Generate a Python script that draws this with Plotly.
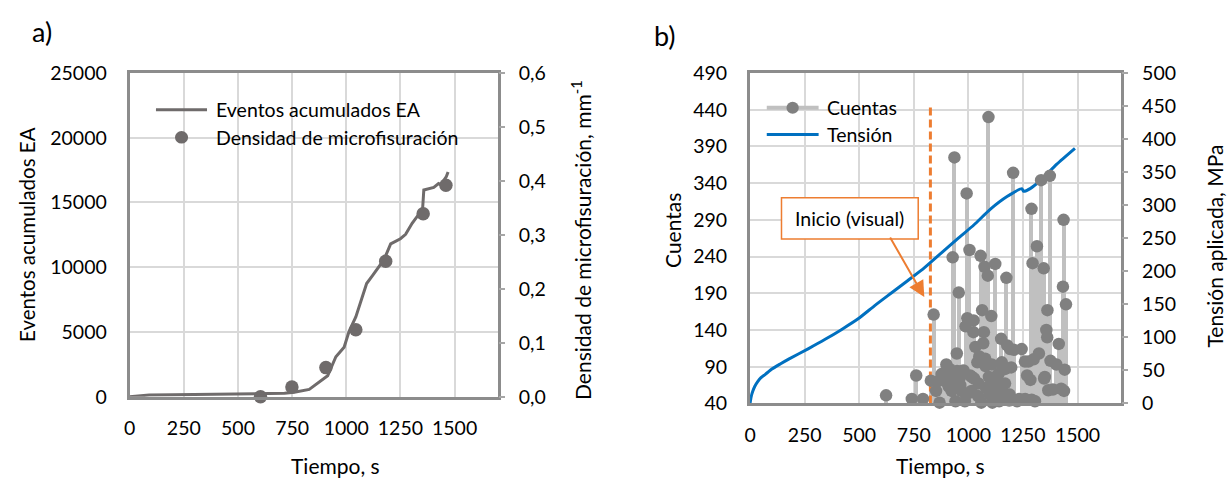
import plotly.graph_objects as go

W, H = 1228, 490
FONT = "Lato"

# ---------------- Panel a data ----------------
t_ea = [0, 40, 90, 200, 350, 500, 600, 715, 760, 829, 914, 952, 990, 1013, 1044, 1094,
        1121, 1174, 1205, 1250, 1274, 1304, 1342, 1352, 1358, 1404, 1426, 1440, 1450, 1462, 1470]
ea_acum = [0, 60, 130, 150, 170, 190, 220, 272, 350, 567, 1620, 3090, 3830, 5060, 6160, 8740,
           9350, 10580, 11800, 12200, 12540, 13390, 14250, 14400, 15970, 16170, 16460, 16350, 16700, 17000, 17350]
t_dens = [604, 749, 906, 1044, 1182, 1355, 1460]
densidad = [0.0, 0.018, 0.054, 0.124, 0.251, 0.339, 0.392]

# ---------------- Panel b data ----------------
t_cnt = [623, 741, 761, 792, 828, 841, 852, 859, 868, 877, 899, 905, 914, 923, 928, 932, 936, 941,
         947, 950, 956, 959, 968, 978, 984, 987, 992, 995, 1005, 1008, 1014, 1023, 1026, 1032, 1041,
         1044, 1050, 1056, 1059, 1063, 1068, 1071, 1074, 1078, 1081, 1089, 1092, 1096, 1105, 1108,
         1123, 1126, 1132, 1141, 1147, 1150, 1153, 1166, 1169, 1174, 1178, 1187, 1196, 1205, 1208,
         1223, 1233, 1244, 1253, 1260, 1269, 1275, 1284, 1289, 1290, 1294, 1299, 1305, 1314, 1323,
         1333, 1345, 1347, 1350, 1357, 1361, 1362, 1366, 1373, 1387, 1403, 1414, 1425, 1433, 1436,
         1438, 1441, 1447,
         895, 910, 948, 963, 971, 1001, 1016, 1024, 1047, 1077, 1094, 1100, 1107, 1110, 1138,
         1145, 1155, 1168, 1191, 1189, 1259, 1376]
cuentas = [51, 46, 78, 46, 71, 161, 57, 70, 41, 80, 93, 67, 87, 57, 239, 78, 375, 43,
           108, 70, 191, 74, 57, 85, 43, 145, 326, 156, 249, 78, 57, 137, 74, 117, 96,
           50, 104, 241, 41, 167, 122, 137, 226, 91, 61, 214, 430, 52, 159, 65,
           230, 70, 78, 43, 61, 128, 96, 52, 87, 211, 119, 44, 89, 354, 113,
           43, 46, 114, 45, 46, 78, 97, 72, 305, 45, 231, 100, 43, 254, 108,
           344, 224, 74, 76, 140, 130, 167, 58, 350, 59, 93, 121, 60, 199, 290,
           57, 86, 175,
           76, 63, 84, 65, 84, 54, 76, 153, 67, 101, 76, 58, 93, 41, 80,
           54, 86, 67, 114, 52, 97, 98]
t_ten = [0, 5, 12, 22, 35, 50, 70, 100, 140, 177, 268, 344, 420, 495, 571, 647, 723, 798,
         874, 950, 1025, 1101, 1177, 1245, 1253, 1283, 1329, 1405, 1488]
tension = [0, 10, 18, 26, 33, 39, 44, 52, 60, 67, 83, 97, 112, 128, 148, 167, 186, 205,
           227, 249, 270, 294, 313, 325, 321, 325, 337, 362, 386]
inicio_t = [826, 826]
inicio_y = [40, 447]

# tick labels
x_ticks = [0, 250, 500, 750, 1000, 1250, 1500]

GRAY_LINE = "#6F6B6B"
GRAY_MK = "#6F6B6B"
STEM = "#C0C0C0"
CNT_MK = "#808080"
BLUE = "#0070C0"
ORANGE = "#ED7D31"
BORDER = "#8C8C8C"
GRID = "#D9D9D9"


def px(x):
    return x / W


def py(y):
    return 1 - y / H


fig = go.Figure()

# Panel a
fig.add_trace(go.Scatter(x=t_ea, y=ea_acum, mode="lines", line=dict(color=GRAY_LINE, width=3),
                         xaxis="x", yaxis="y", showlegend=False))
fig.add_trace(go.Scatter(x=t_dens, y=densidad, mode="markers",
                         marker=dict(color=GRAY_MK, size=13.5), cliponaxis=False,
                         xaxis="x", yaxis="y2", showlegend=False))

# Panel b
fig.add_trace(go.Bar(x=t_cnt, y=cuentas, width=18, marker=dict(color=STEM, line=dict(width=0)),
                     xaxis="x2", yaxis="y3", showlegend=False))
fig.add_trace(go.Scatter(x=inicio_t, y=inicio_y, mode="lines",
                         line=dict(color=ORANGE, width=3, dash="8px,4px"),
                         xaxis="x2", yaxis="y3", showlegend=False))
fig.add_trace(go.Scatter(x=t_ten, y=tension, mode="lines",
                         line=dict(color=BLUE, width=3, shape="spline", smoothing=0.6),
                         xaxis="x2", yaxis="y4", showlegend=False))
fig.add_trace(go.Scatter(x=t_cnt, y=cuentas, mode="markers",
                         marker=dict(color=CNT_MK, size=12.5), cliponaxis=False,
                         xaxis="x2", yaxis="y5", showlegend=False))

tickfont = dict(family=FONT, size=19.5, color="#000000")

common_x = dict(range=[0, 1700], tickvals=x_ticks, tickformat="d", showgrid=True, gridcolor=GRID,
                gridwidth=1.5, showline=True, mirror=True, linecolor=BORDER, linewidth=3,
                ticks="", tickfont=tickfont, zeroline=False, ticklabelstandoff=12, fixedrange=True)

fig.update_layout(
    width=W, height=H, autosize=False,
    margin=dict(l=0, r=0, t=0, b=0),
    paper_bgcolor="white", plot_bgcolor="white",
    separators=",.",
    font=dict(family=FONT, color="#000000"),
    barmode="overlay",
    bargap=0,
    xaxis=dict(domain=[px(124.3), px(494.3)], anchor="y", **common_x),
    yaxis=dict(domain=[py(403.7), py(64)], anchor="x", range=[0, 25000], dtick=5000, tick0=0,
               tickformat="d", showgrid=True, gridcolor=GRID, gridwidth=1.5, showline=True,
               mirror=True, linecolor=BORDER, linewidth=3, ticks="", tickfont=tickfont,
               zeroline=False, ticklabelstandoff=16),
    yaxis2=dict(overlaying="y", side="right", anchor="x", range=[0, 0.6], dtick=0.1, tick0=0,
                tickformat=".1f", showgrid=False, showline=False, ticks="outside", ticklen=6,
                tickcolor="#A6A6A6", tickwidth=1.5, tickfont=tickfont, zeroline=False,
                ticklabelstandoff=10),
    xaxis2=dict(domain=[px(747.7), px(1120.7)], anchor="y3", **common_x),
    yaxis3=dict(domain=[py(410.7), py(64)], anchor="x2", range=[40, 490], dtick=50, tick0=40,
                tickformat="d", showgrid=True, gridcolor=GRID, gridwidth=1.5, showline=True,
                mirror=True, linecolor=BORDER, linewidth=3, ticks="", tickfont=tickfont,
                zeroline=False, ticklabelstandoff=16),
    yaxis4=dict(overlaying="y3", side="right", anchor="x2", range=[0, 500], dtick=50, tick0=0,
                tickformat="d", showgrid=False, showline=False, ticks="outside", ticklen=6,
                tickcolor="#A6A6A6", tickwidth=1.5, tickfont=tickfont, zeroline=False,
                ticklabelstandoff=10),
    yaxis5=dict(overlaying="y3", side="left", anchor="x2", range=[40, 490], visible=False,
                showgrid=False, zeroline=False),
)

shapes = []
annotations = []


def txt(x, y, s, size=19, angle=0, xanchor="center", yanchor="middle"):
    annotations.append(dict(x=px(x), y=py(y), xref="paper", yref="paper", text=s, showarrow=False,
                            textangle=angle, xanchor=xanchor, yanchor=yanchor,
                            font=dict(family=FONT, size=size, color="#000000")))


# panel labels
txt(36, 20, "a)", size=27)
txt(662, 25, "b)", size=27)

# axis titles
txt(331.5, 476, "Tiempo, s", size=21)
txt(938.7, 476, "Tiempo, s", size=21)
txt(21, 233, "Eventos acumulados EA", size=20.5, angle=-90)
txt(578, 239, "Densidad de microfisuración, mm<sup>-1</sup>", size=21, angle=-90)
txt(670, 229, "Cuentas", size=21, angle=-90)
txt(1214, 246, "Tensión aplicada, MPa", size=21, angle=-90)


def circle(cx, cy, r, color):
    shapes.append(dict(type="circle", xref="paper", yref="paper",
                       x0=px(cx - r), x1=px(cx + r), y0=py(cy + r), y1=py(cy - r),
                       fillcolor=color, line=dict(width=0), layer="above"))


def hline(x0, x1, y, color, width):
    shapes.append(dict(type="line", xref="paper", yref="paper", x0=px(x0), x1=px(x1),
                       y0=py(y), y1=py(y), line=dict(color=color, width=width), layer="above"))


# legend a
hline(150.7, 202, 102.5, GRAY_LINE, 3)
txt(209, 102.5, "Eventos acumulados EA", size=19.5, xanchor="left")
circle(176.4, 131.5, 6.6, GRAY_MK)
txt(209, 131.5, "Densidad de microfisuración", size=19.5, xanchor="left")

# legend b
hline(764.5, 816.6, 100.5, STEM, 4)
circle(790.5, 100.5, 6.2, CNT_MK)
txt(823, 100.5, "Cuentas", size=19.5, xanchor="left")
hline(764.5, 816.6, 128.5, BLUE, 3)
txt(823, 128.5, "Tensión", size=19.5, xanchor="left")

# Inicio (visual) box and arrow
shapes.append(dict(type="rect", xref="paper", yref="paper", x0=px(779.3), x1=px(916.7),
                   y0=py(238.3), y1=py(195), line=dict(color=ORANGE, width=1.5),
                   fillcolor="white", layer="above"))
txt(848, 216.7, "Inicio (visual)", size=19.5)
annotations.append(dict(x=798, y=161, xref="x2", yref="y4", text="", showarrow=True,
                        ax=-35, ay=-61, arrowcolor=ORANGE, arrowwidth=2, arrowhead=2,
                        arrowsize=1.6, standoff=0))

fig.update_layout(shapes=shapes, annotations=annotations)

fig.write_html("out.html")
